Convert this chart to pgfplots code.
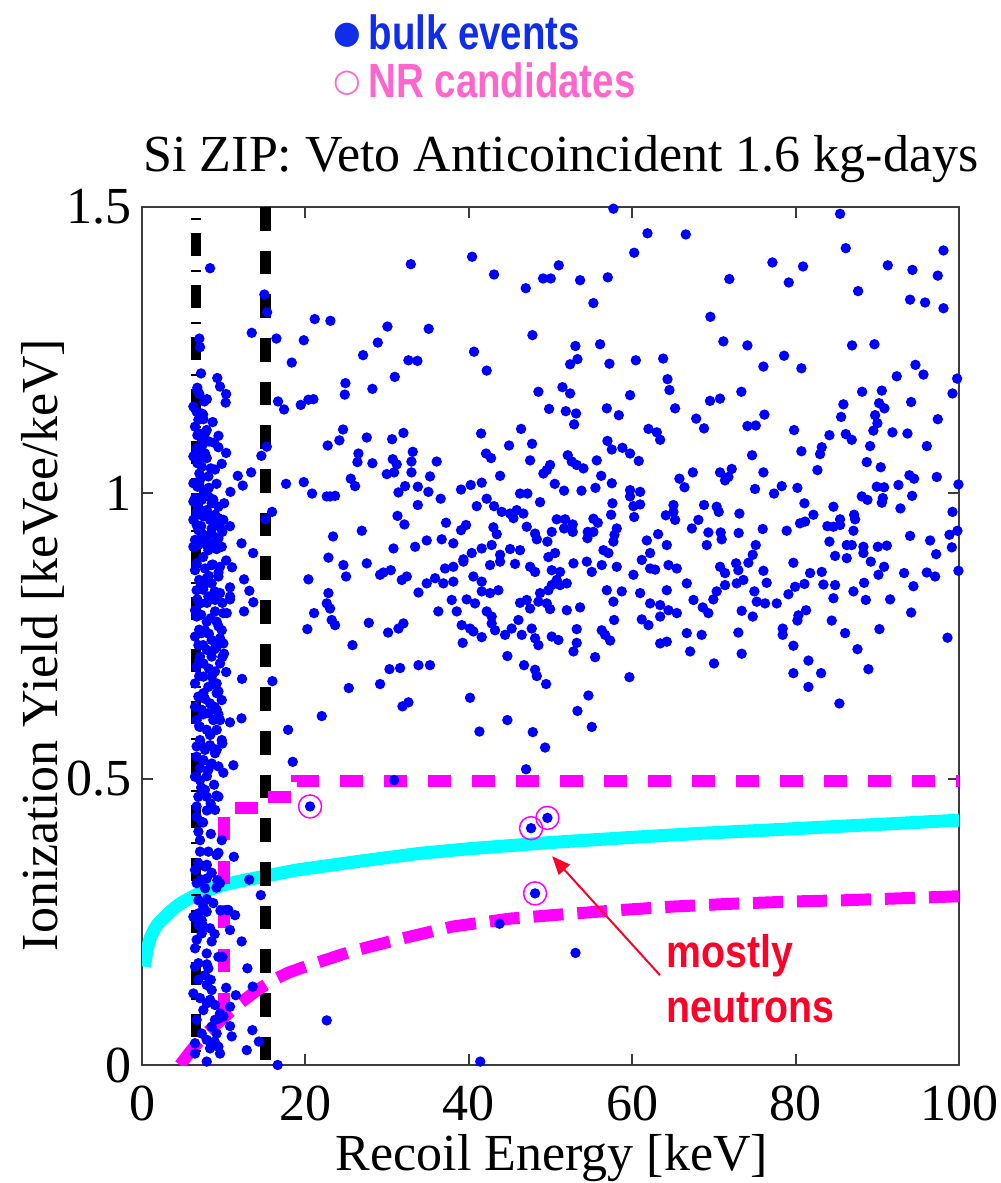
\documentclass[border=0pt]{standalone}
\usepackage{pgfplots}
\pgfplotsset{compat=1.18}
\usepackage{graphicx}
\usepackage{fontspec}
\setmainfont{Liberation Serif}
\newfontfamily\sansfont{Liberation Sans}
\newfontfamily\symfont{DejaVu Sans}
\usetikzlibrary{arrows.meta}
\definecolor{legblue}{RGB}{15,45,235}
\definecolor{legpink}{RGB}{255,102,204}
\definecolor{nrred}{RGB}{255,0,40}
\definecolor{axgray}{RGB}{60,60,60}
\definecolor{mag}{RGB}{255,0,255}
\definecolor{cyn}{RGB}{0,255,255}
\newcommand{\bigfont}{\fontsize{15.6}{18}\selectfont}
\begin{document}
\begin{tikzpicture}
\useasboundingbox (-42.6pt,-35.4pt) rectangle (257.4pt,319.5pt);
\begin{axis}[
  at={(0pt,0pt)}, anchor=south west,
  scale only axis, width=245.1pt, height=257.4pt,
  xmin=0, xmax=100, ymin=0, ymax=1.5,
  xtick={0,20,40,60,80,100}, ytick={0,0.5,1,1.5},
  tick pos=both, tick align=inside, major tick length=3.3pt,
  axis line style={draw=axgray, line width=0.6pt},
  every tick/.style={draw=axgray, line width=0.6pt},
  /pgf/number format/assume math mode=true,
  ticklabel style={font=\bigfont, inner sep=0pt},
  xticklabel style={yshift=-6pt},
  yticklabel style={xshift=-3pt},
]
% cyan line
\addplot[cyn, line width=3.9pt, line cap=butt] coordinates {
(0.3,0.172) (0.6,0.2) (1,0.222) (1.5,0.237) (2,0.248) (2.6,0.256) (3.3,0.266) (4,0.275) (5,0.285) (6.7,0.298) (8.3,0.307) (10,0.315) (12.5,0.323) (15,0.330) (19,0.341) (23,0.349) (27,0.357) (34,0.370) (40,0.378) (50,0.389) (60,0.398) (68.3,0.405) (77,0.411) (85,0.417) (92,0.422) (100,0.428)};
% black dashed thresholds
\addplot[black, line width=3.2pt, dash pattern=on 0.6pt off 4.05pt on 6.9pt off 4.05pt, dash phase=12.3pt] coordinates {(6.6,1.5) (6.6,0)};
\addplot[black, line width=3.2pt, dash pattern=on 7.1pt off 6pt] coordinates {(15.1,1.5) (15.1,0)};
% magenta NR band
\addplot[mag, line width=3.6pt, dash pattern=on 6.9pt off 6.3pt] coordinates {
(10,0.085) (10,0.449) (15.2,0.449) (15.2,0.469) (19,0.469) (19,0.497) (100,0.497)};
\addplot[mag, line width=3.6pt, dash pattern=on 9pt off 4.2pt] coordinates {
(4.65,0) (6,0.025) (7.5,0.05) (8.3,0.061) (10,0.083) (12,0.108) (14,0.13) (16.1,0.149) (18,0.162) (20.6,0.175) (25.5,0.198) (31.2,0.219) (38,0.242) (45.1,0.256) (52,0.264) (58.7,0.271) (65,0.277) (72.3,0.282) (80,0.286) (85.9,0.288) (92,0.291) (100,0.295)};
% bulk events
\addplot[only marks, mark=*, mark size=1.35pt, mark options={draw=blue, fill=blue}] table {
x y
8.33 1.393
32.9 1.400
14.98 1.347
15.31 1.316
21.14 1.304
23.06 1.301
30.04 1.291
13.43 1.280
16.45 1.270
19.80 1.267
7.02 1.270
7.10 1.255
28.86 1.263
27.06 1.241
18.33 1.228
32.61 1.232
33.71 1.231
7.22 1.209
9.22 1.201
9.55 1.186
10.29 1.173
10.24 1.158
30.94 1.203
24.90 1.192
24.82 1.172
28.2 1.182
6.78 1.180
7.02 1.173
7.63 1.160
16.65 1.160
17.39 1.146
19.43 1.154
20.37 1.163
20.98 1.164
6.69 1.142
6.90 1.128
7.51 1.129
7.92 1.110
6.78 1.101
7.31 1.094
24.61 1.111
24.16 1.092
22.73 1.083
27.51 1.097
30.61 1.094
32.0 1.105
8.82 1.088
9.35 1.080
15.27 1.081
14.61 1.065
6.69 1.078
7.71 1.069
7.92 1.061
6.78 1.052
26.49 1.069
26.37 1.054
28.2 1.052
30.69 1.059
31.18 1.050
32.98 1.055
33.14 1.072
9.76 1.051
8.94 1.041
7.02 1.034
7.1 1.023
6.78 1.011
29.96 1.033
30.86 1.036
32.98 1.036
25.55 1.025
26.08 1.012
17.63 1.016
19.80 1.019
12.33 1.013
10.82 1.002
20.82 0.999
23.02 0.994
23.63 0.995
22.61 0.994
32.2 1.012
33.76 1.011
31.39 1.001
6.49 0.991
7.31 0.988
8.12 0.994
8.53 0.982
6.9 0.976
7.92 0.970
6.69 0.962
7.51 0.959
8.33 0.953
9.14 0.947
9.55 0.941
8.53 0.938
6.69 0.944
7.31 0.929
7.92 0.924
6.49 0.918
6.9 0.909
8.12 0.900
9.14 0.903
9.76 0.906
15.92 0.967
15.1 0.954
31.27 0.960
32.12 0.945
33.76 0.979
26.9 0.934
23.39 0.924
30.78 0.903
33.43 0.906
6.29 1.151
7.31 1.139
6.49 1.116
7.71 1.104
7.31 1.081
6.29 1.064
7.31 1.046
8.12 1.029
6.29 1.017
7.51 1.005
8.73 0.988
6.29 0.985
9.35 0.976
7.71 0.967
8.94 0.962
6.29 0.953
9.96 0.953
6.9 0.935
8.53 0.929
9.35 0.921
7.51 0.915
6.29 0.906
8.73 0.912
57.7 1.497
61.87 1.454
66.56 1.452
60.24 1.420
40.4 1.413
43.09 1.382
51.01 1.398
46.97 1.358
49.09 1.375
50.03 1.375
53.62 1.372
57.01 1.377
55.25 1.332
35.09 1.287
47.79 1.276
40.64 1.247
42.19 1.214
53.05 1.257
56.07 1.260
52.4 1.225
53.3 1.234
57.21 1.226
60.44 1.232
63.79 1.235
64.32 1.199
64.56 1.180
65.25 1.148
59.74 1.171
48.52 1.177
51.46 1.185
52.4 1.174
49.83 1.147
51.87 1.143
53.13 1.139
52.89 1.120
56.89 1.148
58.36 1.136
67.83 1.130
61.99 1.112
63.01 1.106
63.42 1.093
41.5 1.104
46.4 1.112
44.93 1.083
47.74 1.086
42.11 1.069
42.72 1.061
36.07 1.055
47.5 1.057
49.95 1.049
49.54 1.040
49.13 1.034
52.11 1.066
52.6 1.055
53.21 1.049
54.03 1.043
56.97 1.091
57.5 1.076
58.8 1.079
59.74 1.069
60.8 1.056
55.66 1.057
56.2 1.030
57.5 1.017
50.52 1.016
51.66 1.004
53.79 1.004
55.5 1.009
65.78 1.025
66.4 1.010
67.42 1.036
35.25 1.029
35.05 1.002
40.23 1.014
41.58 1.018
39.05 1.006
43.83 1.030
36.56 0.990
42.19 0.990
40.97 0.977
43.09 0.977
44.03 0.967
46.27 0.999
47.17 0.999
45.05 0.964
45.87 0.970
46.68 0.964
45.46 0.956
48.72 0.984
57.58 0.982
59.74 1.005
59.74 0.994
60.97 1.002
60.15 0.977
60.97 0.980
57.42 0.962
60.24 0.958
64.11 0.961
65.05 0.967
65.05 0.979
65.25 0.953
37.21 0.948
39.66 0.944
39.05 0.935
43.01 0.940
43.42 0.928
47.09 0.941
48.11 0.929
48.32 0.919
50.76 0.954
51.79 0.954
51.66 0.938
52.72 0.945
52.72 0.932
55.25 0.955
55.79 0.948
54.56 0.932
55.25 0.932
54.52 0.921
58.11 0.938
57.83 0.927
57.7 0.915
63.17 0.928
61.79 0.917
67.3 0.938
68.1 0.953
34.85 0.917
36.68 0.919
38.11 0.912
42.8 0.909
45.05 0.902
46.27 0.900
50.15 0.932
49.62 0.915
64.23 0.909
39.34 0.884
40.36 0.895
41.58 0.903
43.83 0.892
49.74 0.888
50.56 0.895
56.48 0.900
57.09 0.895
62.19 0.895
85.44 1.488
86.14 1.428
98.1 1.424
77.16 1.403
80.91 1.396
91.28 1.398
94.3 1.390
97.4 1.380
71.89 1.374
79.16 1.368
87.65 1.353
94.01 1.338
95.85 1.333
98.1 1.323
69.57 1.308
71.16 1.265
74.1 1.258
86.91 1.258
89.65 1.260
78.59 1.240
76.06 1.221
80.71 1.218
94.67 1.224
95.65 1.207
92.38 1.204
99.77 1.200
99.2 1.174
73.36 1.177
69.52 1.161
70.75 1.165
88.14 1.177
90.55 1.179
85.85 1.155
90.22 1.157
90.87 1.148
94.14 1.159
76.18 1.137
85.57 1.133
89.73 1.136
90.01 1.122
89.52 1.109
68.79 1.113
74.1 1.117
75.12 1.118
79.81 1.110
97.4 1.129
91.85 1.106
93.69 1.104
84.14 1.101
86.14 1.103
86.87 1.093
80.71 1.073
83.2 1.080
82.99 1.068
89.12 1.082
96.06 1.082
74.67 1.066
88.71 1.054
90.42 1.045
70.75 1.036
72.18 1.042
71.36 1.022
71.77 1.028
76.06 1.036
82.67 1.040
93.93 1.031
94.5 1.025
97.28 1.028
99.93 1.015
75.03 1.007
78.3 1.012
77.36 0.999
80.22 1.009
89.93 1.011
90.83 1.010
92.59 1.014
88.1 0.994
88.79 0.988
90.67 0.991
90.55 0.983
94.26 0.995
68.79 0.979
70.34 0.976
70.59 0.967
73.12 0.964
81.08 0.982
84.63 0.976
92.83 0.973
99.2 0.967
82.18 0.962
80.54 0.947
81.16 0.950
83.89 0.942
84.63 0.941
85.44 0.954
85.44 0.944
87.16 0.962
87.28 0.954
87.08 0.934
69.32 0.931
70.83 0.931
70.95 0.919
73.03 0.930
75.97 0.937
78.91 0.934
94.01 0.925
96.46 0.917
98.83 0.927
99.81 0.934
69.12 0.909
75.12 0.909
84.14 0.915
86.26 0.909
86.87 0.909
88.3 0.906
90.06 0.906
91.16 0.908
99.12 0.905
97.2 0.893
74.75 0.892
84.83 0.890
88.3 0.895
11.02 0.870
12.49 0.849
13.14 0.829
13.63 0.809
12.49 0.793
12.24 0.675
15.96 0.671
17.88 0.586
18.45 0.530
22.82 0.887
24.65 0.874
24.98 0.854
27.51 0.877
20.37 0.849
22.82 0.825
22.61 0.807
23.02 0.798
21.06 0.790
23.22 0.778
23.63 0.769
20.24 0.762
27.76 0.773
29.14 0.857
29.55 0.861
30.45 0.865
31.8 0.848
32.41 0.854
33.84 0.826
31.39 0.763
32.0 0.772
30.12 0.756
25.76 0.734
33.84 0.699
30.29 0.692
31.59 0.694
25.31 0.659
29.14 0.666
22.0 0.610
31.88 0.627
32.61 0.634
30.86 0.498
20.57 0.452
10.78 0.819
6.69 0.877
7.71 0.868
8.53 0.874
9.55 0.871
9.35 0.854
7.1 0.845
7.92 0.851
6.69 0.830
8.12 0.819
8.94 0.813
7.1 0.807
9.96 0.790
10.37 0.790
6.69 0.784
7.92 0.775
9.14 0.775
9.76 0.760
7.31 0.755
8.53 0.743
9.55 0.746
6.9 0.734
7.92 0.726
10.04 0.719
7.1 0.714
8.53 0.714
8.94 0.688
6.69 0.696
7.51 0.679
8.12 0.661
9.14 0.650
6.9 0.644
8.33 0.632
7.31 0.621
9.14 0.621
6.69 0.603
8.73 0.603
7.92 0.586
8.33 0.577
9.76 0.568
7.1 0.568
7.71 0.551
8.94 0.545
7.51 0.533
8.53 0.527
7.1 0.519
9.96 0.511
11.18 0.524
7.1 0.498
8.82 0.490
7.71 0.481
9.35 0.469
6.9 0.469
8.41 0.457
9.76 0.393
6.69 0.434
7.31 0.425
6.9 0.408
7.1 0.393
8.12 0.373
9.14 0.367
6.9 0.353
7.71 0.347
8.53 0.336
9.22 0.323
6.69 0.318
7.71 0.309
6.9 0.288
10.37 0.271
6.49 0.865
7.51 0.836
8.53 0.842
9.55 0.825
6.49 0.795
8.94 0.793
7.71 0.760
6.49 0.749
9.14 0.731
9.96 0.737
7.51 0.702
9.55 0.702
8.53 0.679
6.49 0.667
9.14 0.667
7.51 0.650
9.76 0.638
6.49 0.626
8.12 0.615
9.55 0.603
7.1 0.591
9.14 0.586
6.69 0.557
8.33 0.559
9.14 0.551
6.69 0.539
8.12 0.516
9.35 0.522
6.49 0.504
7.92 0.469
6.69 0.452
8.94 0.446
7.1 0.373
6.49 0.341
7.92 0.326
9.55 0.318
7.51 0.277
8.73 0.283
6.77 1.184
7.94 1.164
7.48 1.137
8.65 1.124
7.0 1.104
8.18 1.090
9.36 1.100
10.3 1.070
7.24 1.063
8.42 1.043
11.72 1.030
13.36 1.036
7.0 1.016
8.18 1.009
9.12 1.016
7.48 0.996
8.65 0.989
10.06 0.982
6.77 0.969
7.94 0.962
9.36 0.956
7.24 0.942
8.42 0.929
9.83 0.932
10.77 0.942
6.77 0.915
7.94 0.909
9.12 0.902
12.18 0.912
13.6 0.895
7.48 0.888
8.65 0.875
10.3 0.882
7.0 0.848
8.18 0.855
9.36 0.861
7.48 0.831
8.89 0.828
10.77 0.835
6.77 0.814
7.94 0.808
9.83 0.808
10.77 0.814
7.24 0.787
8.42 0.781
7.0 0.761
8.18 0.754
9.36 0.767
7.48 0.734
8.89 0.727
9.83 0.713
7.0 0.707
8.18 0.693
10.3 0.687
7.0 0.680
8.65 0.666
9.36 0.653
7.71 0.640
8.89 0.626
7.48 0.613
9.36 0.613
10.77 0.599
12.18 0.606
7.0 0.592
8.42 0.579
7.24 0.559
8.89 0.552
9.83 0.562
7.48 0.532
8.42 0.525
7.94 0.505
7.24 0.485
9.12 0.471
7.94 0.445
7.48 0.424
8.42 0.404
9.36 0.371
7.94 0.350
11.24 0.364
7.24 0.324
9.12 0.310
13.12 0.324
7.94 0.290
9.6 0.270
7.48 0.243
8.89 0.229
10.77 0.236
14.54 0.297
7.94 0.176
9.83 0.189
8.42 0.149
10.3 0.135
7.94 0.108
11.48 0.122
9.36 0.081
10.77 0.068
8.89 0.041
14.3 0.041
37.09 0.868
38.11 0.871
35.87 0.851
34.85 0.842
36.89 0.842
38.11 0.845
39.34 0.880
40.56 0.854
41.58 0.845
42.6 0.874
43.83 0.880
45.66 0.876
47.5 0.871
48.11 0.862
50.15 0.865
51.17 0.862
50.76 0.848
50.15 0.839
51.17 0.839
51.99 0.842
48.72 0.825
49.74 0.830
52.81 0.877
54.44 0.880
55.05 0.862
56.27 0.874
58.11 0.871
60.15 0.857
61.17 0.883
62.19 0.868
62.81 0.866
64.44 0.874
65.46 0.868
66.68 0.842
56.89 0.830
57.7 0.810
58.72 0.828
60.97 0.825
62.19 0.807
63.42 0.804
64.44 0.795
65.46 0.790
64.23 0.830
67.5 0.813
37.91 0.813
39.74 0.814
40.76 0.807
38.52 0.793
36.27 0.793
41.58 0.828
42.6 0.825
43.62 0.830
42.19 0.793
42.8 0.784
46.27 0.808
47.09 0.813
47.5 0.798
48.52 0.810
49.54 0.807
49.95 0.797
51.99 0.795
53.62 0.800
39.13 0.769
40.15 0.763
40.56 0.758
41.58 0.748
39.25 0.738
42.8 0.772
43.21 0.760
44.44 0.752
45.25 0.763
46.07 0.778
46.48 0.752
47.7 0.763
48.11 0.746
48.52 0.734
50.15 0.749
50.97 0.743
53.21 0.762
53.21 0.738
52.81 0.723
55.46 0.713
56.27 0.760
56.68 0.752
57.3 0.742
57.78 0.778
61.17 0.779
61.99 0.769
63.42 0.784
63.42 0.737
64.23 0.740
66.68 0.755
67.09 0.723
44.72 0.715
35.25 0.699
46.76 0.699
48.11 0.691
48.32 0.680
49.46 0.666
59.66 0.678
54.64 0.646
53.3 0.619
55.05 0.591
40.15 0.642
44.72 0.603
41.3 0.583
47.83 0.582
49.34 0.555
47.01 0.517
47.62 0.414
49.62 0.432
48.11 0.300
70.75 0.871
71.36 0.860
72.71 0.877
72.99 0.865
72.79 0.842
73.61 0.848
74.22 0.878
76.06 0.864
76.46 0.843
79.73 0.878
81.77 0.860
83.2 0.862
86.26 0.886
89.2 0.880
90.83 0.871
90.14 0.857
93.28 0.860
94.42 0.837
96.06 0.861
97.08 0.854
99.93 0.864
71.36 0.839
70.34 0.828
69.93 0.814
68.63 0.800
69.32 0.790
68.5 0.752
74.95 0.828
75.24 0.810
76.26 0.807
77.69 0.807
73.4 0.794
74.75 0.784
79.12 0.823
79.93 0.836
81.08 0.841
83.4 0.840
84.83 0.839
84.63 0.816
87.08 0.828
88.38 0.843
88.59 0.813
91.57 0.814
81.28 0.795
80.34 0.786
80.22 0.777
84.42 0.777
94.14 0.791
72.99 0.756
78.42 0.763
78.42 0.752
86.06 0.755
90.26 0.762
98.59 0.747
79.73 0.733
73.4 0.719
70.01 0.702
81.57 0.707
87.57 0.727
88.91 0.692
79.73 0.685
83.12 0.685
81.57 0.661
85.36 0.632
6.9 0.265
7.92 0.268
10.57 0.271
11.39 0.262
8.33 0.239
6.9 0.245
7.31 0.230
6.49 0.204
12.2 0.216
8.53 0.216
9.35 0.189
6.9 0.178
8.12 0.169
12.9 0.169
6.9 0.149
7.92 0.140
7.1 0.117
8.33 0.114
8.94 0.105
9.55 0.090
10.78 0.102
9.96 0.085
8.94 0.079
9.14 0.055
10.98 0.050
7.92 0.044
9.35 0.032
6.49 0.038
9.55 0.020
12.82 0.026
13.51 0.061
13.55 0.137
22.61 0.078
7.92 0.006
16.61 0.0
6.29 0.259
7.31 0.253
6.69 0.219
7.92 0.195
6.49 0.172
7.71 0.157
8.53 0.131
6.29 0.125
7.51 0.096
6.69 0.079
8.53 0.067
7.31 0.055
6.49 0.020
8.33 0.029
43.76 0.247
53.06 0.196
41.4 0.006
};
% NR candidates
\addplot[only marks, mark=o, mark size=3.45pt, mark options={draw=mag, line width=0.45pt}] coordinates {
(20.57,0.452) (47.62,0.414) (49.62,0.432) (48.11,0.300)};
% annotation
\draw[nrred, line width=0.6pt, -{Triangle[length=5.5pt,width=4.5pt]}] (axis cs:63.4,0.157) -- (axis cs:50.2,0.365);
\node[anchor=base west, inner sep=0pt, text=nrred] at (axis cs:64.1,0.171) {\sansfont\bfseries\fontsize{13.7}{16}\selectfont\scalebox{0.86}[1]{mostly}};
\node[anchor=base west, inner sep=0pt, text=nrred] at (axis cs:64.1,0.075) {\sansfont\bfseries\fontsize{13.7}{16}\selectfont\scalebox{0.86}[1]{neutrons}};
\end{axis}
% title and labels
\node[anchor=base, inner sep=0pt, font=\bigfont] at (125.7pt,267.9pt) {Si ZIP: Veto Anticoincident 1.6 kg-days};
\node[anchor=base, inner sep=0pt, font=\bigfont] at (123pt,-31.5pt) {Recoil Energy [keV]};
\node[anchor=base, inner sep=0pt, rotate=90, font=\bigfont] at (-25.2pt,126pt) {Ionization Yield [keVee/keV]};
% legend
\node[anchor=center, inner sep=0pt, text=legblue] at (61.5pt,309pt) {\symfont\fontsize{9.5}{9.5}\selectfont ●};
\node[anchor=base west, inner sep=0pt, text=legblue] at (67.8pt,304.5pt) {\sansfont\bfseries\fontsize{14.4}{17}\selectfont\scalebox{0.8}[1]{bulk events}};
\node[anchor=center, inner sep=0pt, text=legpink] at (61.5pt,294.6pt) {\symfont\fontsize{9.5}{9.5}\selectfont ○};
\node[anchor=base west, inner sep=0pt, text=legpink] at (67.8pt,290.1pt) {\sansfont\bfseries\fontsize{14.4}{17}\selectfont\scalebox{0.8}[1]{NR candidates}};
\end{tikzpicture}
\end{document}
